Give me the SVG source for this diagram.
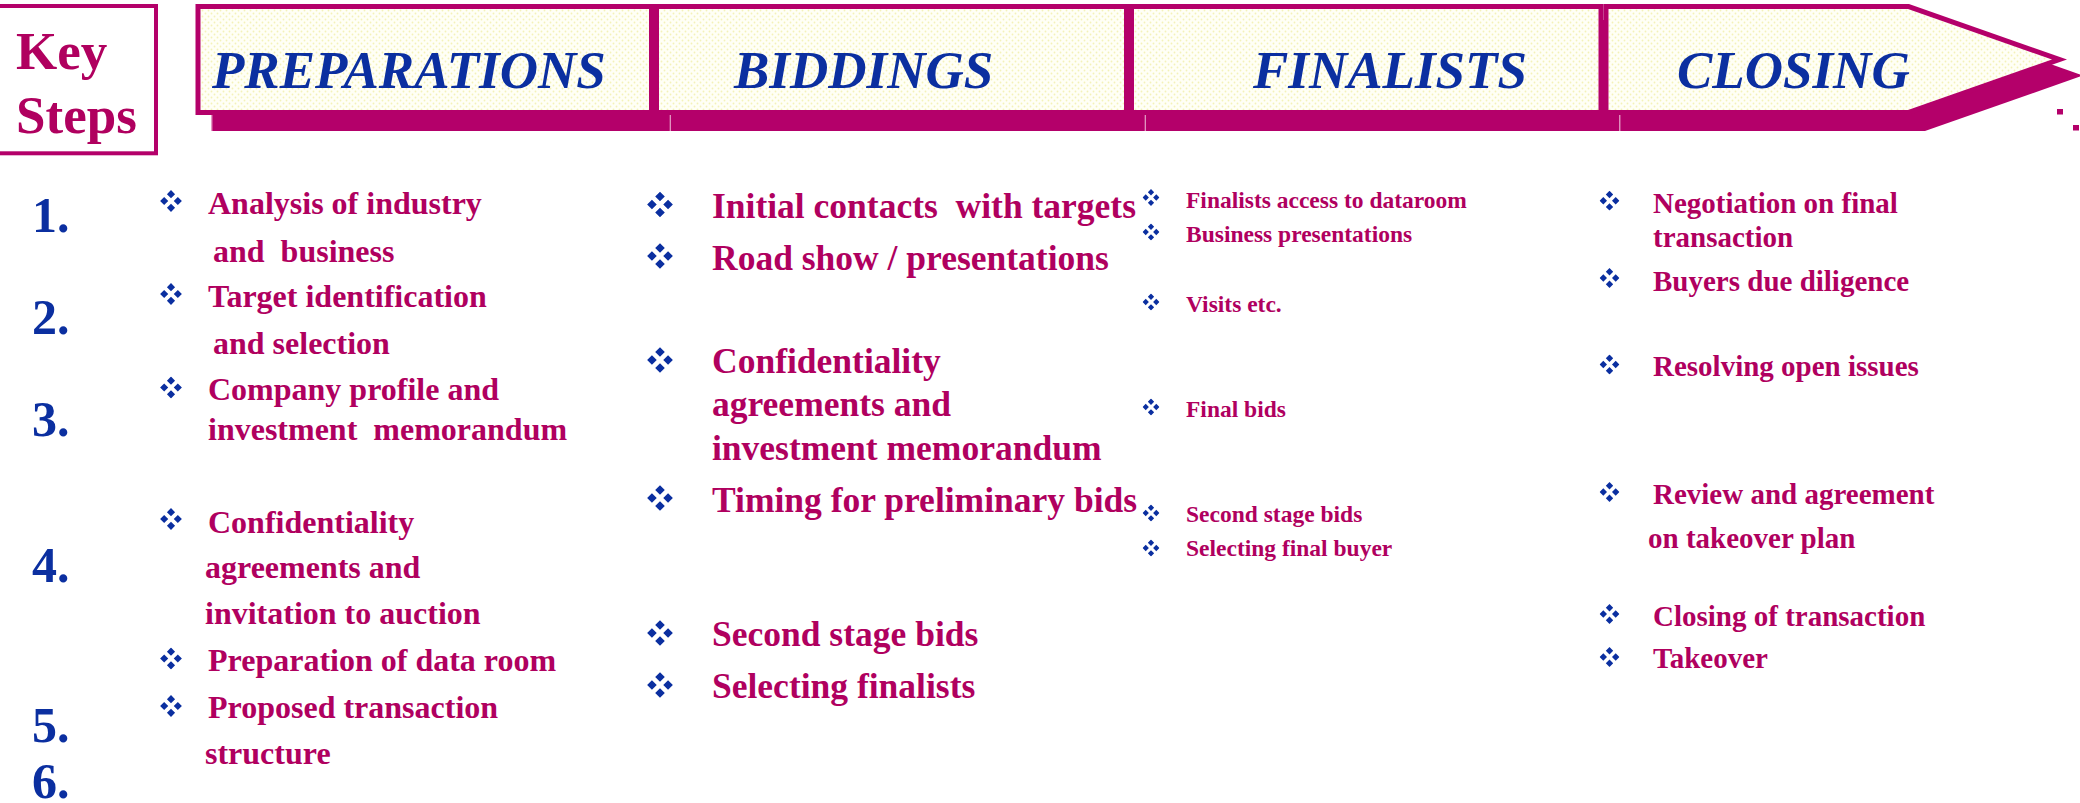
<svg xmlns="http://www.w3.org/2000/svg" width="2080" height="803" viewBox="0 0 2080 803" xml:space="preserve">
<defs>
<pattern id="dots" width="6" height="6" patternUnits="userSpaceOnUse">
<rect width="6" height="6" fill="#FFFFF6"/>
<circle cx="1.5" cy="1.5" r="0.9" fill="#F4F2B8"/>
<circle cx="4.5" cy="4.5" r="0.9" fill="#F4F2B8"/>
</pattern>
<symbol id="bul" viewBox="-10 -10 20 20">
<path d="M0,-9.9 L3.7,-6.2 L0,-2.5 L-3.7,-6.2Z M0,2.5 L3.7,6.2 L0,9.9 L-3.7,6.2Z M-9.9,0 L-6.2,-3.7 L-2.5,0 L-6.2,3.7Z M9.9,0 L6.2,-3.7 L2.5,0 L6.2,3.7Z" fill="#0B2FA0"/>
</symbol>
</defs>
<style>
text{white-space:pre}
.box{fill:url(#dots);stroke:#B4006A;stroke-width:5}
.shadow{fill:#B4006A}
.seam{stroke:#E6A3C8;stroke-width:1.2}
.hdr{font-family:"Liberation Serif","Times New Roman",serif;font-weight:bold;font-style:italic;font-size:53px;fill:#0B2FA0}
.num{font-family:"Liberation Serif","Times New Roman",serif;font-weight:bold;font-size:50px;fill:#0B2FA0}
.key{font-family:"Liberation Serif","Times New Roman",serif;font-weight:bold;font-size:53px;fill:#B0005F}
.t{font-family:"Liberation Serif","Times New Roman",serif;font-weight:bold;fill:#B0005F}
.c1{font-size:32px}
.c2{font-size:35.5px}
.c3{font-size:23.5px}
.c4{font-size:29px}
</style>
<rect width="2080" height="803" fill="#FFFFFF"/>

<g id="key-steps">
<rect x="-4" y="6" width="160" height="147.3" fill="#FFFFFF" stroke="#B4006A" stroke-width="4"/>
<text class="key" x="16" y="69">Key</text>
<text class="key" x="16" y="133">Steps</text>
</g>

<g id="stage-preparations">
<rect class="shadow" x="211.5" y="20" width="458.5" height="111"/>
<line class="seam" x1="211.8" y1="115" x2="211.8" y2="131"/>
<rect class="box" x="198" y="6.5" width="453.5" height="106"/>
<text class="hdr" x="212" y="88">PREPARATIONS</text>
</g>

<g id="stage-biddings">
<rect class="shadow" x="670" y="20" width="475" height="111"/>
<line class="seam" x1="670.3" y1="115" x2="670.3" y2="131"/>
<rect class="box" x="656.5" y="6.5" width="470" height="106"/>
<text class="hdr" x="734" y="88">BIDDINGS</text>
</g>

<g id="stage-finalists">
<rect class="shadow" x="1145" y="20" width="474.5" height="111"/>
<line class="seam" x1="1145.3" y1="115" x2="1145.3" y2="131"/>
<rect class="box" x="1131.5" y="6.5" width="469.5" height="106"/>
<text class="hdr" x="1253" y="88">FINALISTS</text>
</g>

<g id="stage-closing">
<polygon class="shadow" points="1619.5,20 1925,20 2083,75.5 1925,131 1619.5,131"/>
<line class="seam" x1="1619.8" y1="115" x2="1619.8" y2="131"/>
<polygon fill="#B4006A" points="1603.5,4 1909,4 2067,59.5 1909,115 1603.5,115"/>
<polygon fill="url(#dots)" points="1608.5,9 1908,9 2052,59.5 1908,110 1608.5,110"/>
<rect x="2057" y="109" width="6" height="5.5" fill="#B4006A"/>
<rect x="2073" y="125" width="6" height="5.5" fill="#B4006A"/>
<text class="hdr" x="1677" y="88">CLOSING</text>
</g>

<g id="connectors"></g>

<g id="step-numbers">
<text class="num" x="32" y="232">1.</text>
<text class="num" x="32" y="334">2.</text>
<text class="num" x="32" y="436">3.</text>
<text class="num" x="32" y="582">4.</text>
<text class="num" x="32" y="742">5.</text>
<text class="num" x="32" y="798">6.</text>
</g>

<g id="list-preparations">
<use href="#bul" x="160" y="190" width="22" height="22"/>
<use href="#bul" x="160" y="283" width="22" height="22"/>
<use href="#bul" x="160" y="376.5" width="22" height="22"/>
<use href="#bul" x="160" y="508" width="22" height="22"/>
<use href="#bul" x="160" y="647.5" width="22" height="22"/>
<use href="#bul" x="160" y="695" width="22" height="22"/>
<text class="t c1" x="208" y="214">Analysis of industry</text>
<text class="t c1" x="213" y="261.5">and  business</text>
<text class="t c1" x="208" y="307">Target identification</text>
<text class="t c1" x="213" y="354">and selection</text>
<text class="t c1" x="208" y="400">Company profile and</text>
<text class="t c1" x="208" y="439.5">investment  memorandum</text>
<text class="t c1" x="208" y="533">Confidentiality</text>
<text class="t c1" x="205" y="578">agreements and</text>
<text class="t c1" x="205" y="624">invitation to auction</text>
<text class="t c1" x="208" y="671">Preparation of data room</text>
<text class="t c1" x="208" y="718">Proposed transaction</text>
<text class="t c1" x="205" y="764">structure</text>
</g>

<g id="list-biddings">
<use href="#bul" x="647" y="191.5" width="26" height="26"/>
<use href="#bul" x="647" y="243" width="26" height="26"/>
<use href="#bul" x="647" y="347" width="26" height="26"/>
<use href="#bul" x="647" y="485" width="26" height="26"/>
<use href="#bul" x="647" y="620" width="26" height="26"/>
<use href="#bul" x="647" y="672" width="26" height="26"/>
<text class="t c2" x="712" y="218">Initial contacts  with targets</text>
<text class="t c2" x="712" y="270">Road show / presentations</text>
<text class="t c2" x="712" y="373">Confidentiality</text>
<text class="t c2" x="712" y="416">agreements and</text>
<text class="t c2" x="712" y="460">investment memorandum</text>
<text class="t c2" x="712" y="512">Timing for preliminary bids</text>
<text class="t c2" x="712" y="646">Second stage bids</text>
<text class="t c2" x="712" y="698">Selecting finalists</text>
</g>

<g id="list-finalists">
<use href="#bul" x="1142.5" y="189" width="17" height="17"/>
<use href="#bul" x="1142.5" y="223.5" width="17" height="17"/>
<use href="#bul" x="1142.5" y="293.5" width="17" height="17"/>
<use href="#bul" x="1142.5" y="398.5" width="17" height="17"/>
<use href="#bul" x="1142.5" y="504.5" width="17" height="17"/>
<use href="#bul" x="1142.5" y="539.5" width="17" height="17"/>
<text class="t c3" x="1186" y="207.5">Finalists access to dataroom</text>
<text class="t c3" x="1186" y="241.5">Business presentations</text>
<text class="t c3" x="1186" y="312">Visits etc.</text>
<text class="t c3" x="1186" y="417">Final bids</text>
<text class="t c3" x="1186" y="522">Second stage bids</text>
<text class="t c3" x="1186" y="556">Selecting final buyer</text>
</g>

<g id="list-closing">
<use href="#bul" x="1599.5" y="190.7" width="20" height="20"/>
<use href="#bul" x="1599.5" y="268" width="20" height="20"/>
<use href="#bul" x="1599.5" y="354.5" width="20" height="20"/>
<use href="#bul" x="1599.5" y="482" width="20" height="20"/>
<use href="#bul" x="1599.5" y="604" width="20" height="20"/>
<use href="#bul" x="1599.5" y="647" width="20" height="20"/>
<text class="t c4" x="1653" y="213">Negotiation on final</text>
<text class="t c4" x="1653" y="247">transaction</text>
<text class="t c4" x="1653" y="290.5">Buyers due diligence</text>
<text class="t c4" x="1653" y="376">Resolving open issues</text>
<text class="t c4" x="1653" y="504">Review and agreement</text>
<text class="t c4" x="1648" y="548">on takeover plan</text>
<text class="t c4" x="1653" y="626">Closing of transaction</text>
<text class="t c4" x="1653" y="668">Takeover</text>
</g>
</svg>
